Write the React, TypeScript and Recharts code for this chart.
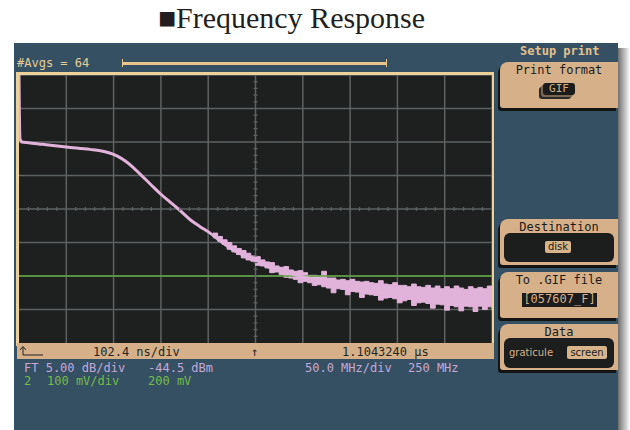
import React from 'react';
import {
  ComposedChart,
  Line,
  Area,
  Scatter,
  XAxis,
  YAxis,
  CartesianGrid,
  ReferenceLine,
} from 'recharts';

// FFT trace: frequency in MHz (50 MHz/div), level in dB below top (5 dB/div)
const TRACE_FREQ = [0, 1, 3, 10, 25, 50, 75, 86, 95, 104, 112, 120, 128, 139, 150, 160, 170, 181, 191, 202, 212, 223, 233, 244, 255, 265, 280, 294, 310, 332, 350, 368, 385, 403, 420, 438, 455, 474, 490, 500];
const TRACE_DB = [0, -9.5, -10.0, -10.1, -10.35, -10.75, -11.1, -11.3, -11.6, -12.1, -12.8, -13.7, -14.8, -16.3, -17.8, -19.0, -20.2, -21.6, -22.6, -23.6, -24.7, -25.8, -26.6, -27.3, -28.0, -28.7, -29.4, -29.9, -30.5, -31.2, -31.6, -31.9, -32.2, -32.5, -32.8, -33.1, -33.2, -33.2, -33.15, -33.1];

// noisy envelope of the averaged trace (upper / lower edge)
const NOISE_FREQ = [205, 210, 215, 220, 225, 230, 235, 240, 245, 250, 255, 260, 265, 270, 275, 280, 285, 290, 295, 300, 305, 310, 315, 320, 325, 330, 335, 340, 345, 350, 355, 360, 365, 370, 375, 380, 385, 390, 395, 400, 405, 410, 415, 420, 425, 430, 435, 440, 445, 450, 455, 460, 465, 470, 475, 480, 485, 490, 495, 500];
const NOISE_HI = [-23.6, -24.1, -24.6, -25.0, -25.5, -25.9, -26.2, -26.6, -27.0, -27.1, -27.6, -27.9, -28.0, -28.5, -28.7, -28.6, -29.1, -29.3, -29.2, -29.5, -29.9, -29.9, -30.0, -29.3, -30.3, -30.3, -30.6, -30.5, -30.7, -30.5, -30.8, -30.9, -30.8, -31.0, -31.1, -30.7, -31.2, -31.3, -31.0, -31.4, -31.4, -31.6, -31.2, -31.6, -31.7, -31.4, -31.8, -31.5, -31.9, -31.6, -31.9, -31.5, -31.8, -32.0, -31.6, -31.9, -31.7, -31.9, -31.5, -32.0];
const NOISE_LO = [-24.3, -24.8, -25.3, -26.0, -26.4, -26.8, -27.3, -27.6, -27.8, -28.4, -28.5, -28.8, -29.5, -29.4, -29.8, -30.2, -30.3, -30.5, -31.0, -30.8, -31.0, -31.4, -31.3, -31.6, -31.8, -32.5, -31.9, -32.0, -32.8, -32.3, -32.4, -33.2, -32.7, -32.8, -32.9, -33.6, -33.3, -33.2, -33.4, -34.0, -33.7, -33.5, -34.4, -34.0, -33.9, -34.1, -34.8, -34.2, -34.3, -35.1, -34.4, -34.6, -35.2, -34.5, -34.6, -35.3, -34.5, -35.0, -34.6, -35.1];

// channel 2 trace (flat, 200 mV)
const CH2_LEVEL = -30;

const X_MAJOR = [0, 50, 100, 150, 200, 250, 300, 350, 400, 450, 500];
const Y_MAJOR = [-40, -35, -30, -25, -20, -15, -10, -5, 0];
const X_CENTER = 250;
const Y_CENTER = -20;

const traceData = TRACE_FREQ.map((f, i) => ({ f, db: TRACE_DB[i] }));
const noiseData = NOISE_FREQ.map((f, i) => ({ f, band: [NOISE_LO[i], NOISE_HI[i]] }));

// graticule minor ticks along the centre cross
const hTicks: { f: number; db: number }[] = [];
for (let f = 10; f < 500; f += 10) hTicks.push({ f, db: Y_CENTER });
const vTicks: { f: number; db: number }[] = [];
for (let d = -39; d < 0; d += 1) vTicks.push({ f: X_CENTER, db: d });

const PINK = '#e2b3da';
const GRID = '#5e6161';
const TAN = '#d6b088';
const MONO = '"DejaVu Sans Mono", monospace';
const SANS = '"DejaVu Sans", sans-serif';

const txt = (left: number, top: number, color: string, s: string, extra: React.CSSProperties = {}) => (
  <div style={{ position: 'absolute', left, top, color, fontFamily: MONO, fontSize: 12, lineHeight: '12px', whiteSpace: 'pre', ...extra }}>{s}</div>
);

const MenuBox = ({ top, title, children }: { top: number; title: string; children?: React.ReactNode }) => (
  <div style={{ position: 'absolute', left: 500, top, width: 118, height: 46, background: TAN, borderTopLeftRadius: 8, borderBottomLeftRadius: 3, boxShadow: '-2px 3px 0 #141414' }}>
    <div style={{ textAlign: 'center', fontFamily: MONO, fontSize: 12, lineHeight: '12px', color: '#1c1c1c', marginTop: 2 }}>{title}</div>
    {children}
  </div>
);

const HTick = (p: any) => <line x1={p.cx} y1={p.cy - 2} x2={p.cx} y2={p.cy + 2} stroke={GRID} strokeWidth={1.2} />;
const VTick = (p: any) => <line x1={p.cx - 2} y1={p.cy} x2={p.cx + 2} y2={p.cy} stroke={GRID} strokeWidth={1.2} />;

export default function App() {
  return (
    <div style={{ position: 'absolute', left: 0, top: 0, width: 630, height: 430, background: '#fff', overflow: 'hidden' }}>
      <div style={{ position: 'absolute', left: 0, top: 1, width: 583, textAlign: 'center', fontFamily: '"Liberation Serif", serif', fontSize: 30, color: '#231f20' }}>
        ■Frequency Response
      </div>

      {/* scope screen */}
      <div style={{ position: 'absolute', left: 618, top: 48, width: 12, height: 382, background: 'linear-gradient(to right, #6f6f6f, #ffffff)' }} />
      <div style={{ position: 'absolute', left: 14, top: 43, width: 604, height: 387, background: '#345062' }} />

      {txt(17, 57, '#e6cc98', '#Avgs = 64')}
      <div style={{ position: 'absolute', left: 123, top: 62, width: 263, height: 3, background: '#e8c38a' }} />
      <div style={{ position: 'absolute', left: 122, top: 59, width: 1, height: 8, background: '#e8c38a' }} />
      <div style={{ position: 'absolute', left: 386, top: 59, width: 1, height: 8, background: '#e8c38a' }} />

      <div style={{ position: 'absolute', left: 16, top: 72, width: 478, height: 274, background: '#ecd198' }} />
      <div style={{ position: 'absolute', left: 19, top: 75, width: 473, height: 268, background: '#1e2020' }}>
        <ComposedChart width={473} height={268} margin={{ top: 0, right: 0, bottom: 0, left: 0 }}>
          <XAxis type="number" dataKey="f" domain={[0, 500]} ticks={X_MAJOR} hide />
          <YAxis type="number" dataKey="db" domain={[-40, 0]} ticks={Y_MAJOR} hide allowDataOverflow />
          <CartesianGrid stroke={GRID} strokeWidth={1.5} horizontalValues={Y_MAJOR} verticalValues={X_MAJOR} />
          <Scatter data={hTicks} shape={HTick} isAnimationActive={false} />
          <Scatter data={vTicks} shape={VTick} isAnimationActive={false} />
          <ReferenceLine y={CH2_LEVEL} stroke="#5da63e" strokeWidth={1.5} />
          <Area data={noiseData} dataKey="band" type="stepAfter" stroke={PINK} strokeWidth={1} fill={PINK} fillOpacity={1} isAnimationActive={false} dot={false} activeDot={false} />
          <Line data={traceData} dataKey="db" type="monotone" stroke={PINK} strokeWidth={3} dot={false} activeDot={false} isAnimationActive={false} />
        </ComposedChart>
      </div>

      <div style={{ position: 'absolute', left: 17, top: 343, width: 477, height: 16, background: TAN }} />
      <svg style={{ position: 'absolute', left: 19, top: 345 }} width={26} height={12}>
        <path d="M4 10 L4 2 M1 5 L4 1.5 L7 5 M4 10 L24 10" stroke="#222" strokeWidth={1} fill="none" />
      </svg>
      {txt(93, 346, '#262626', '102.4 ns/div')}
      {txt(251, 346, '#262626', '↑')}
      {txt(342, 346, '#262626', '1.1043240 µs')}

      {txt(24, 362, '#c4a8d6', 'FT 5.00 dB/div')}
      {txt(148, 362, '#c4a8d6', '-44.5 dBm')}
      {txt(305, 362, '#c4a8d6', '50.0 MHz/div')}
      {txt(408, 362, '#c4a8d6', '250 MHz')}
      {txt(24, 375, '#74bb4c', '2')}
      {txt(47, 375, '#74bb4c', '100 mV/div')}
      {txt(148, 375, '#74bb4c', '200 mV')}

      {/* side menu */}
      {txt(520, 45, '#e3c08e', 'Setup print', { fontWeight: 'bold' })}
      <MenuBox top={62} title="Print format">
        <div style={{ position: 'absolute', left: 43, top: 21, width: 32, height: 12, background: '#1c1c1c', borderRadius: 3, boxShadow: '-2px 2px 0 #7a6650, -4px 4px 0 #2a2a2a', color: TAN, fontFamily: MONO, fontSize: 11, lineHeight: '12px', textAlign: 'center' }}>GIF</div>
      </MenuBox>
      <MenuBox top={219} title="Destination">
        <div style={{ position: 'absolute', left: 4, top: 14, width: 110, height: 29, background: '#1c1d1d', borderRadius: 6 }}>
          <div style={{ position: 'absolute', left: 41, top: 8, width: 26, height: 12, background: '#d8b48a', borderRadius: 2, color: '#1c1c1c', fontFamily: SANS, fontSize: 10, lineHeight: '12px', textAlign: 'center' }}>disk</div>
        </div>
      </MenuBox>
      <MenuBox top={272} title="To .GIF file">
        <div style={{ position: 'absolute', left: 22, top: 21, width: 75, height: 14, background: '#1c1c1c', color: TAN, fontFamily: MONO, fontSize: 12, lineHeight: '13px', textAlign: 'center' }}>[057607_F]</div>
      </MenuBox>
      <MenuBox top={324} title="Data">
        <div style={{ position: 'absolute', left: 4, top: 14, width: 110, height: 30, background: '#1c1d1d', borderRadius: 6 }}>
          <div style={{ position: 'absolute', left: 5, top: 9, color: TAN, fontFamily: SANS, fontSize: 10, lineHeight: '12px' }}>graticule</div>
          <div style={{ position: 'absolute', left: 63, top: 8, width: 40, height: 13, background: '#d8b48a', borderRadius: 2, color: '#1c1c1c', fontFamily: SANS, fontSize: 10, lineHeight: '13px', textAlign: 'center' }}>screen</div>
        </div>
      </MenuBox>
    </div>
  );
}
